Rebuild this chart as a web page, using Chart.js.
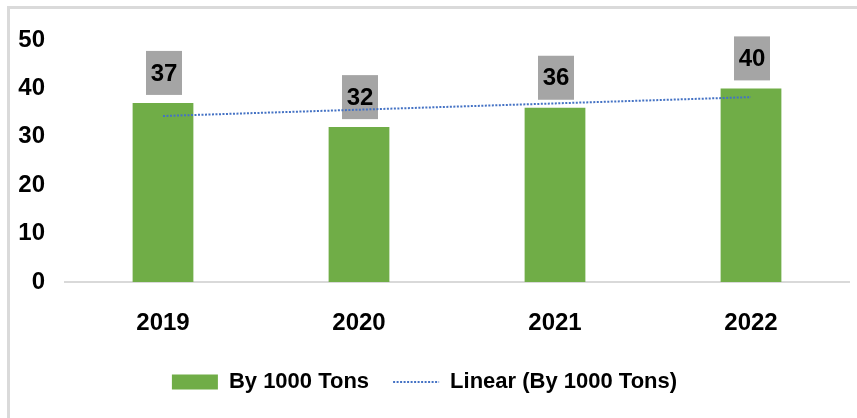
<!DOCTYPE html>
<html>
<head>
<meta charset="utf-8">
<script src="https://cdn.jsdelivr.net/npm/chart.js@4"></script>
<style>
  html, body { margin: 0; padding: 0; background: #fff; overflow: hidden; }
  #frame { position: absolute; left: 7px; top: 6px; width: 870px; height: 430px;
           border-top: 3px solid #dadada; border-left: 3px solid #dadada; }
  #wrap { position: absolute; left: 0; top: 0; width: 857px; height: 418px; }
</style>
</head>
<body>
<div id="frame"></div>
<div id="wrap"><canvas id="tonsChart"></canvas></div>
<script>
// values
const years = ['2019', '2020', '2021', '2022'];
const tons = [37, 32, 36, 40];
const trend = [34.3, 35.6, 36.9, 38.2];

const FONT = '"Liberation Sans Narrow", "Liberation Sans", Arial, sans-serif';
Chart.defaults.font.family = FONT;
Chart.defaults.color = '#000';

// grey value boxes above the bars (drawn before the trend line)
const valueBoxes = {
    id: 'valueBoxes',
    afterDatasetDraw(chart, args) {
        if (args.index !== 0) return;
        const ctx = chart.ctx;
        ctx.save();
        ctx.font = 'bold 24px ' + FONT;
        ctx.textAlign = 'center';
        ctx.textBaseline = 'middle';
        args.meta.data.forEach((bar, i) => {
            const w = 36, h = 44;
            const bottom = bar.y - 8;
            ctx.fillStyle = '#a5a5a5';
            ctx.fillRect(bar.x - w / 2 + 1, bottom - h, w, h);
            ctx.fillStyle = '#000';
            ctx.fillText(tons[i], bar.x + 1, bottom - h / 2 + 1);
        });
        ctx.restore();
    }
};

const ctx = document.getElementById('tonsChart').getContext('2d');
new Chart(ctx, {
    type: 'bar',
    data: {
        labels: years,
        datasets: [{
            label: 'By 1000 Tons',
            data: tons,
            backgroundColor: '#70ad47',
            borderWidth: 0,
            barPercentage: 0.31,
            categoryPercentage: 1,
            order: 1
        }, {
            type: 'line',
            label: 'Linear (By 1000 Tons)',
            data: trend,
            borderColor: '#4472c4',
            backgroundColor: '#4472c4',
            borderWidth: 2,
            borderDash: [2, 1.5],
            pointRadius: 0,
            fill: false,
            order: 0
        }]
    },
    options: {
        responsive: true,
        maintainAspectRatio: false,
        animation: false,
        layout: { padding: { top: 40, right: 8, bottom: 15, left: 0 } },
        scales: {
            y: {
                min: 0,
                max: 50,
                ticks: { stepSize: 10, padding: 20, font: { size: 24, weight: 'bold' } },
                grid: { display: false, drawTicks: false },
                border: { display: false },
                afterFit(scale) { scale.width = 65; }
            },
            x: {
                ticks: { padding: 27, font: { size: 24, weight: 'bold' } },
                grid: { display: false, drawTicks: false },
                border: { display: true, color: '#d9d9d9', width: 2 },
                afterFit(scale) { scale.height = 65; }
            }
        },
        plugins: {
            legend: {
                position: 'bottom',
                labels: {
                    usePointStyle: true,
                    pointStyleWidth: 46,
                    boxHeight: 15,
                    padding: 24,
                    font: { size: 22, weight: 'bold' },
                    generateLabels(chart) {
                        const items = Chart.defaults.plugins.legend.labels.generateLabels(chart);
                        items.sort((a, b) => a.datasetIndex - b.datasetIndex);
                        items.forEach(item => {
                            if (item.datasetIndex === 0) {
                                item.pointStyle = 'rect';
                                item.lineWidth = 0;
                                item.fillStyle = '#70ad47';
                            } else {
                                item.pointStyle = 'line';
                                item.lineWidth = 2;
                                item.strokeStyle = '#4472c4';
                                item.lineDash = [2, 1.5];
                            }
                        });
                        return items;
                    }
                }
            },
            tooltip: { enabled: false }
        }
    },
    plugins: [valueBoxes]
});
</script>
</body>
</html>
